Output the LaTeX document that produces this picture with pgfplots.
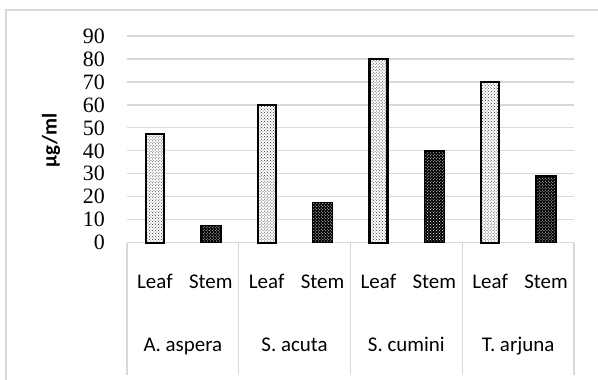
\documentclass[border=0pt]{standalone}
\usepackage{pgfplots}
\pgfplotsset{compat=1.18}
\usepackage{fontspec}
\setmainfont{Carlito}
\newfontfamily\tnr{Liberation Serif}
\usetikzlibrary{patterns}
\definecolor{gridgray}{HTML}{D9D9D9}
\tikzset{
  lab/.style={anchor=base, inner sep=0pt, font=\fontsize{21}{24}\selectfont},
  sep/.style={gridgray, line width=1.2bp},
}

\begin{document}
\begin{tikzpicture}
\path[use as bounding box] (0,0) rectangle (598bp,380bp);
% outer frame
\draw[gridgray, line width=2bp] (6bp,0) -- (6bp,370bp) -- (600bp,370bp);
\begin{axis}[
  at={(127bp,137.3bp)}, anchor=south west,
  scale only axis, width=447bp, height=206.7bp,
  xmin=0, xmax=8, ymin=0, ymax=90,
  ytick={0,10,...,90}, xtick=\empty,
  axis line style={draw=none},
  major tick length=0pt,
  ymajorgrids, grid style={gridgray, line width=1.2bp},
  /pgf/number format/assume math mode=true,
  yticklabel style={font=\tnr\fontsize{22}{24}\selectfont, anchor=east, inner sep=0pt, xshift=-22bp},
  clip=false,
]
% category box below the plot
\draw[sep] (axis cs:0,0) -- (axis cs:8,0);
\draw[sep] (axis cs:0,0) -- ++(0,-132bp);
\draw[sep] (axis cs:2,0) -- ++(0,-132bp);
\draw[sep] (axis cs:4,0) -- ++(0,-132bp);
\draw[sep] (axis cs:6,0) -- ++(0,-132bp);
\draw[sep] (axis cs:8,0) -- ++(0,-132bp);
% Leaf
\addplot[ybar, bar shift=0pt, bar width=18bp, draw=black, line width=2.2bp,
  fill=white, postaction={pattern=crosshatch dots, pattern color=black!80}]
  coordinates {(0.5,47.5) (2.5,60) (4.5,80) (6.5,70)};
% Stem
\addplot[ybar, bar shift=0pt, bar width=20bp, draw=black, line width=1.5bp,
  fill=black, postaction={pattern=crosshatch dots, pattern color=white}]
  coordinates {(1.5,7.5) (3.5,17.5) (5.5,40) (7.5,29)};
% sub-category labels
\node[lab] at (axis cs:0.5,0) [yshift=-45.5bp] {Leaf};
\node[lab] at (axis cs:1.5,0) [yshift=-45.5bp] {Stem};
\node[lab] at (axis cs:2.5,0) [yshift=-45.5bp] {Leaf};
\node[lab] at (axis cs:3.5,0) [yshift=-45.5bp] {Stem};
\node[lab] at (axis cs:4.5,0) [yshift=-45.5bp] {Leaf};
\node[lab] at (axis cs:5.5,0) [yshift=-45.5bp] {Stem};
\node[lab] at (axis cs:6.5,0) [yshift=-45.5bp] {Leaf};
\node[lab] at (axis cs:7.5,0) [yshift=-45.5bp] {Stem};
% group labels
\node[lab] at (axis cs:1,0) [yshift=-109bp] {A. aspera};
\node[lab] at (axis cs:3,0) [yshift=-109bp] {S. acuta};
\node[lab] at (axis cs:5,0) [yshift=-109bp] {S. cumini};
\node[lab] at (axis cs:7,0) [yshift=-109bp] {T. arjuna};
% axis title
\node[xshift=-76bp, rotate=90, inner sep=0pt, font=\bfseries\fontsize{21}{24}\selectfont]
  at (axis cs:0,44.5) {µg/ml};
\end{axis}
\end{tikzpicture}
\end{document}
